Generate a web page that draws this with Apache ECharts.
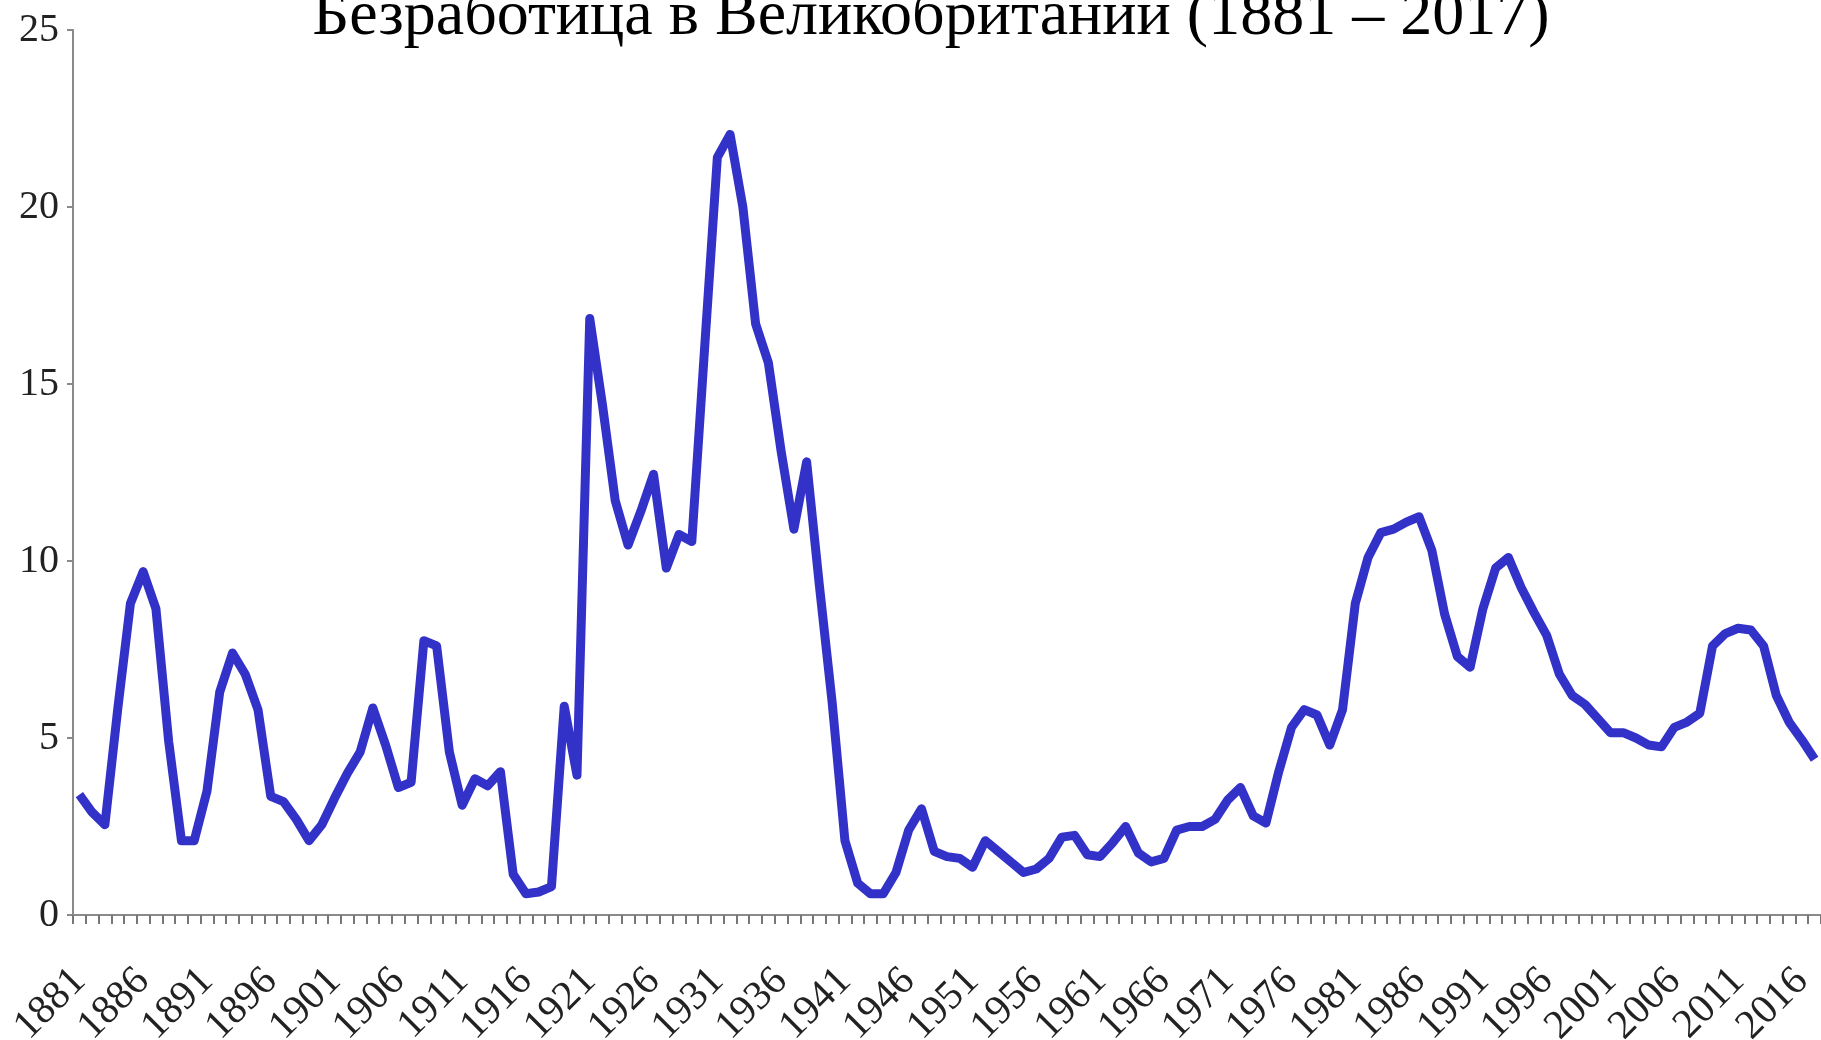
<!DOCTYPE html>
<html>
<head>
<meta charset="utf-8">
<title>Безработица в Великобритании</title>
<script src="https://cdn.jsdelivr.net/npm/echarts@6/dist/echarts.min.js"></script>
<style>
  html, body { margin: 0; padding: 0; background: #fff; }
  #chart { width: 1821px; height: 1040px; }
</style>
</head>
<body>
<div id="chart"></div>
<script>
const titleText = 'Безработица в Великобритании (1881 – 2017)';

// годы 1881..2017
const firstYear = 1881;
const lastYear = 2017;
const years = [];
for (let y = firstYear; y <= lastYear; y++) years.push(String(y));

// уровень безработицы, % (по десятилетиям)
const rate1880s = [3.4, 2.9, 2.55, 5.8, 8.8, 9.7, 8.65, 4.9, 2.1];              // 1881-1889
const rate1890s = [2.1, 3.5, 6.3, 7.4, 6.8, 5.8, 3.35, 3.2, 2.7, 2.1];
const rate1900s = [2.55, 3.3, 4.0, 4.6, 5.85, 4.8, 3.6, 3.75, 7.75, 7.6];
const rate1910s = [4.6, 3.1, 3.85, 3.65, 4.05, 1.15, 0.6, 0.65, 0.8, 5.9];
const rate1920s = [3.95, 16.85, 14.4, 11.7, 10.45, 11.4, 12.45, 9.8, 10.75, 10.55];
const rate1930s = [16.0, 21.4, 22.05, 20.0, 16.7, 15.6, 13.1, 10.9, 12.8, 9.3];
const rate1940s = [6.0, 2.1, 0.9, 0.6, 0.6, 1.2, 2.4, 3.0, 1.8, 1.65];
const rate1950s = [1.6, 1.35, 2.1, 1.8, 1.5, 1.2, 1.3, 1.6, 2.2, 2.25];
const rate1960s = [1.7, 1.65, 2.05, 2.5, 1.75, 1.5, 1.6, 2.4, 2.5, 2.5];
const rate1970s = [2.7, 3.25, 3.6, 2.8, 2.6, 4.05, 5.3, 5.8, 5.65, 4.8];
const rate1980s = [5.8, 8.8, 10.1, 10.8, 10.9, 11.1, 11.25, 10.3, 8.5, 7.3];
const rate1990s = [7.0, 8.65, 9.8, 10.1, 9.25, 8.55, 7.9, 6.8, 6.2, 5.95];
const rate2000s = [5.55, 5.15, 5.15, 5.0, 4.8, 4.75, 5.3, 5.45, 5.7, 7.6];
const rate2010s = [7.95, 8.1, 8.05, 7.6, 6.2, 5.45, 4.95, 4.4];                 // 2010-2017

const unemployment = [].concat(
  rate1880s, rate1890s, rate1900s, rate1910s, rate1920s, rate1930s, rate1940s,
  rate1950s, rate1960s, rate1970s, rate1980s, rate1990s, rate2000s, rate2010s
);

const axisColor = '#8a8a8a';
const textColor = '#222';
const serif = '"Liberation Serif", "DejaVu Serif", serif';

const chart = echarts.init(document.getElementById('chart'), null, { renderer: 'canvas' });

const option = {
  animation: false,
  backgroundColor: '#fff',
  title: {
    text: titleText,
    left: 926,
    textAlign: 'center',
    top: -20,
    textStyle: { fontFamily: serif, fontSize: 64, fontWeight: 'normal', color: '#000' }
  },
  // рамка задана жёстко, подписи могут уходить за край как в оригинале
  grid: { left: 73, right: 0, top: 30, bottom: 125, containLabel: false, outerBoundsMode: 'none' },
  xAxis: {
    type: 'category',
    data: years,
    boundaryGap: true,
    axisLine: { show: true, lineStyle: { color: axisColor, width: 2 } },
    axisTick: { show: true, interval: 0, length: 9, lineStyle: { color: '#777', width: 2 } },
    axisLabel: {
      interval: 4,
      rotate: 45,
      margin: 60,
      fontFamily: serif,
      fontSize: 41,
      color: textColor
    },
    splitLine: { show: false }
  },
  yAxis: {
    type: 'value',
    min: 0,
    max: 25,
    interval: 5,
    axisLine: { show: true, lineStyle: { color: axisColor, width: 2 } },
    axisTick: { show: true, length: 6, lineStyle: { color: axisColor, width: 2 } },
    axisLabel: { margin: 14, fontFamily: serif, fontSize: 40, color: textColor },
    splitLine: { show: false }
  },
  series: [{
    type: 'line',
    data: unemployment,
    showSymbol: false,
    smooth: false,
    lineStyle: { color: '#3232c8', width: 9, join: 'round' }
  }]
};

chart.setOption(option);
</script>
</body>
</html>
